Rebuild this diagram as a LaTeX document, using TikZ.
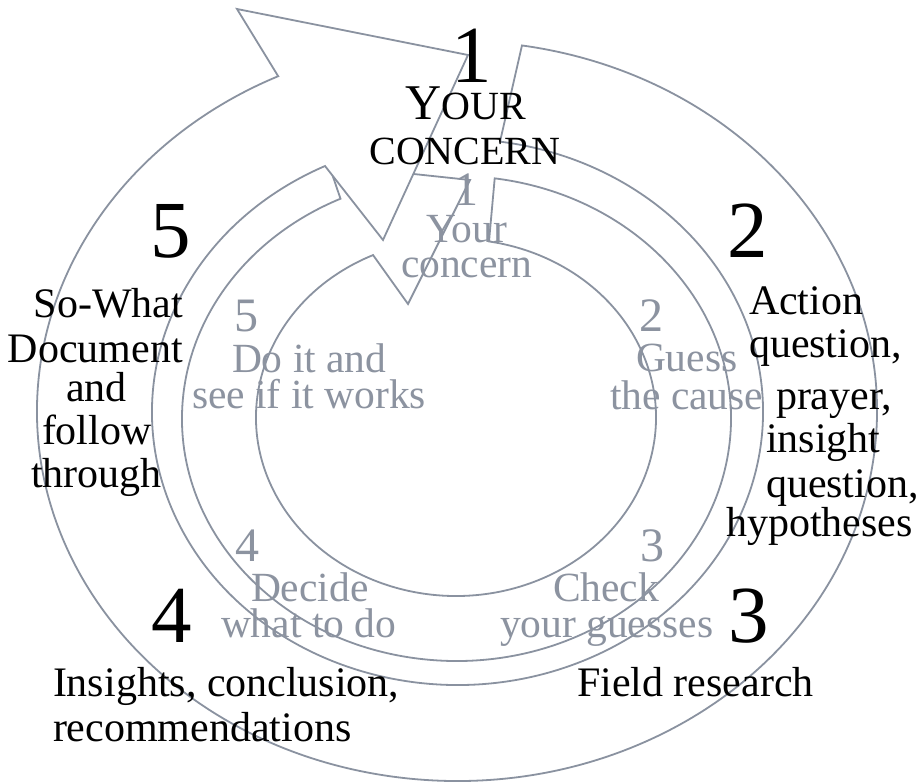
\documentclass[tikz,border=0pt]{standalone}
\usepackage{fontspec}
\setmainfont{Liberation Serif}
\usetikzlibrary{calc}
\definecolor{ringgray}{RGB}{138,146,160}
\definecolor{labelgray}{RGB}{140,147,160}
\begin{document}
\begin{tikzpicture}[x=1pt,y=1pt,
  ring/.style={draw=ringgray, line width=1.8pt, fill=white, line join=miter},
  bigdigit/.style={inner sep=0pt, outer sep=0pt, anchor=base, font=\fontsize{81}{81}\selectfont, text=black},
  outertext/.style={inner sep=0pt, outer sep=0pt, anchor=base west, font=\fontsize{42}{42}\selectfont, text=black},
  smalldigit/.style={inner sep=0pt, outer sep=0pt, anchor=base, font=\fontsize{48}{48}\selectfont, text=labelgray},
  innertext/.style={inner sep=0pt, outer sep=0pt, anchor=base west, font=\fontsize{41.5}{41.5}\selectfont, text=labelgray}]
\fill[white] (0,0) rectangle (919,782);
\useasboundingbox (0,0) rectangle (919,782);
% centres of the four elliptical edges
\coordinate (c1) at (457,371);
\coordinate (c2) at (457.5,370);
\coordinate (c3) at (456.5,363.5);
\coordinate (c4) at (456,364.5);
% inner circular arrow
\draw[ring] ($(c3)+(82:274.5pt and 242.5pt)$)
  arc[start angle=82, end angle=-245, x radius=274.5pt, y radius=242.5pt]
  -- (329,617) -- (470,602) -- (408,478)
  -- ($(c4)+(114.5:200pt and 178.5pt)$)
  arc[start angle=114.5, end angle=440.5, x radius=200pt, y radius=178.5pt]
  -- cycle;
% outer circular arrow
\draw[ring] ($(c1)+(81.1:420pt and 370pt)$)
  arc[start angle=81.1, end angle=-244.8, x radius=420pt, y radius=370pt]
  -- (237,773) -- (468,727) -- (383,542)
  -- ($(c2)+(115.7:305.5pt and 273pt)$)
  arc[start angle=115.7, end angle=442, x radius=305.5pt, y radius=273pt]
  -- cycle;
% outer labels
\node[bigdigit] (n1) at (471.5,699) {1};
\node[inner sep=0pt, anchor=base, text=black] (yc1) at (466,662) {\fontsize{50}{50}\selectfont Y\fontsize{40}{40}\selectfont OUR};
\node[inner sep=0pt, anchor=base, text=black] (yc2) at (465,617) {\fontsize{40}{40}\selectfont CONCERN};
\node[bigdigit] (n5) at (171,524) {5};
\node[bigdigit] (n2) at (747.5,524) {2};
\node[bigdigit] (n4) at (172,139) {4};
\node[bigdigit] (n3) at (749,139) {3};
\node[outertext] (l1) at (34,464) {So-What};
\node[outertext] (l2) at (8,419) {Document};
\node[outertext] (l3) at (66,380) {and};
\node[outertext] (l4) at (42,337) {follow};
\node[outertext] (l5) at (31,294) {through};
\node[outertext] (r1) at (749,467) {Action};
\node[outertext] (r2) at (749,424) {question,};
\node[outertext] (r3) at (776,372) {prayer,};
\node[outertext] (r4) at (766,329) {insight};
\node[outertext] (r5) at (766,284) {question,};
\node[outertext] (r6) at (726,245) {hypotheses};
\node[outertext] (b1) at (53,85) {Insights, conclusion,};
\node[outertext] (b2) at (53,40) {recommendations};
\node[outertext] (b3) at (577,85) {Field research};
% inner labels
\node[smalldigit] (i1) at (466,576) {1};
\node[innertext] (i1a) at (426,539) {Your};
\node[innertext] (i1b) at (401,504) {concern};
\node[smalldigit] (i5) at (246.5,450) {5};
\node[innertext] (i5a) at (232,409) {Do it and};
\node[innertext] (i5b) at (192,373) {see if it works};
\node[smalldigit] (i2) at (651.5,450) {2};
\node[innertext] (i2a) at (636,410) {Guess};
\node[innertext] (i2b) at (610,372) {the cause};
\node[smalldigit] (i4) at (247,220) {4};
\node[innertext] (i4a) at (251,180) {Decide};
\node[innertext] (i4b) at (221,144) {what to do};
\node[smalldigit] (i3) at (652.5,220) {3};
\node[innertext] (i3a) at (553,180) {Check};
\node[innertext] (i3b) at (500,144) {your guesses};
\end{tikzpicture}
\end{document}
